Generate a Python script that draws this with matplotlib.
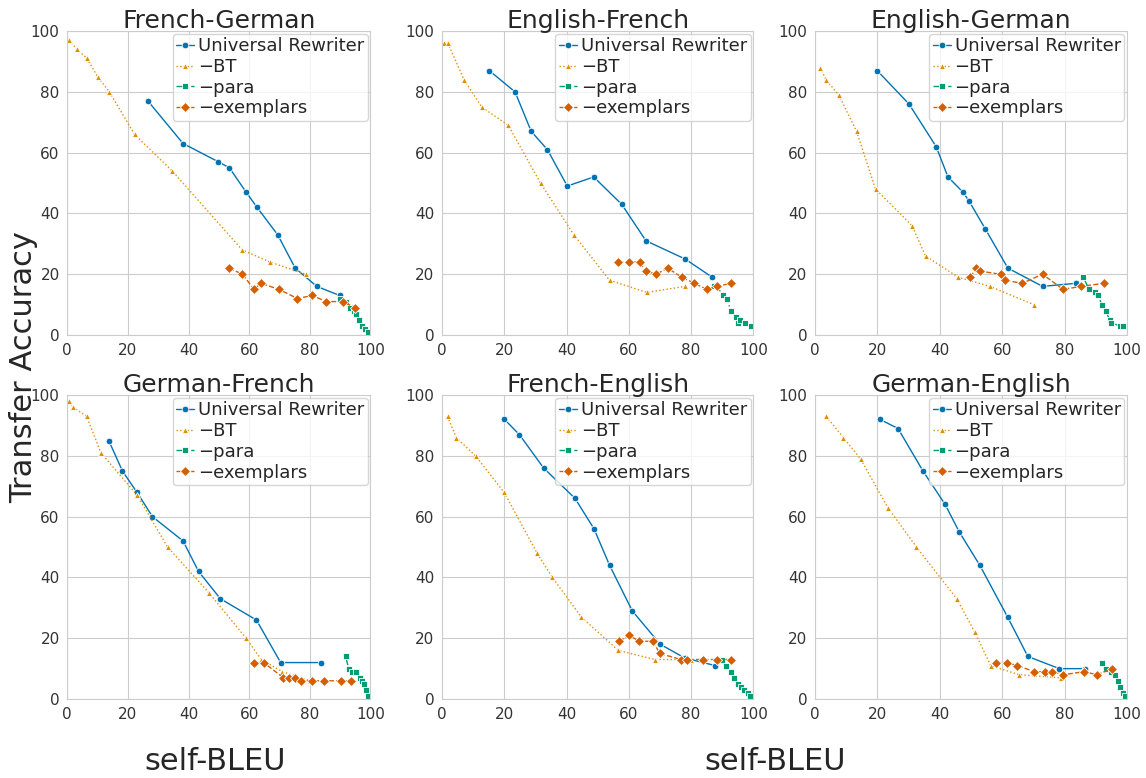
import matplotlib
matplotlib.use("Agg")
import matplotlib.pyplot as plt
import seaborn as sns

titles = ["French-German", "English-French", "English-German",
          "German-French", "French-English", "German-English"]
series = ["Universal Rewriter", "\u2212BT", "\u2212para", "\u2212exemplars"]

# French-German
fr_de_ur_x = [26.6, 38.2, 49.8, 53.5, 59.0, 62.6, 69.4, 75.2, 82.3, 89.9]
fr_de_ur_y = [77, 63, 57, 55, 47, 42, 33, 22, 16, 13]
fr_de_bt_x = [0.6, 3.2, 6.5, 10.0, 13.9, 22.2, 34.6, 57.7, 66.9, 78.7]
fr_de_bt_y = [97, 94, 91, 85, 80, 66, 54, 28, 24, 20]
fr_de_para_x = [90.0, 92.0, 93.2, 94.5, 95.2, 96.2, 97.2, 98.2, 99.2]
fr_de_para_y = [12, 11, 9, 8, 7, 5, 3, 2, 1]
fr_de_ex_x = [53.4, 57.8, 61.6, 63.9, 69.9, 75.9, 80.8, 85.5, 90.9, 95.0]
fr_de_ex_y = [22, 20, 15, 17, 15, 12, 13, 11, 11, 9]

# English-French
en_fr_ur_x = [15.1, 23.4, 28.6, 33.8, 40.2, 48.7, 57.7, 65.5, 78.1, 86.8]
en_fr_ur_y = [87, 80, 67, 61, 49, 52, 43, 31, 25, 19]
en_fr_bt_x = [0.5, 1.8, 7.0, 12.7, 21.2, 31.6, 42.3, 53.8, 65.8, 78.1]
en_fr_bt_y = [96, 96, 84, 75, 69, 50, 33, 18, 14, 16]
en_fr_para_x = [87.4, 88.4, 90.2, 91.5, 92.8, 94.5, 95.1, 95.8, 97.2, 99.4]
en_fr_para_y = [16, 16, 13, 12, 8, 6, 4, 5, 4, 3]
en_fr_ex_x = [56.6, 60.0, 63.5, 65.5, 68.8, 72.5, 77.0, 81.1, 85.1, 88.3, 92.8]
en_fr_ex_y = [24, 24, 24, 21, 20, 22, 19, 17, 15, 16, 17]

# English-German
en_de_ur_x = [19.9, 30.1, 38.8, 42.6, 47.4, 49.4, 54.5, 61.8, 72.9, 83.6]
en_de_ur_y = [87, 76, 62, 52, 47, 44, 35, 22, 16, 17]
en_de_bt_x = [1.7, 3.5, 7.6, 13.3, 19.4, 31.1, 35.4, 45.9, 56.0, 70.1]
en_de_bt_y = [88, 84, 79, 67, 48, 36, 26, 19, 16, 10]
en_de_para_x = [86.0, 87.8, 89.7, 90.7, 91.9, 93.1, 94.4, 95.0, 97.6, 98.8]
en_de_para_y = [19, 15, 14, 13, 10, 8, 5, 4, 3, 3]
en_de_ex_x = [49.8, 51.5, 52.9, 59.5, 61.0, 66.4, 72.9, 79.5, 85.3, 92.5]
en_de_ex_y = [19, 22, 21, 20, 18, 17, 20, 15, 16, 17]

# German-French
de_fr_ur_x = [13.7, 18.2, 23.0, 28.1, 38.2, 43.3, 50.5, 62.4, 70.4, 83.7]
de_fr_ur_y = [85, 75, 68, 60, 52, 42, 33, 26, 12, 12]
de_fr_bt_x = [0.5, 1.9, 6.4, 11.1, 23.1, 33.1, 46.7, 59.0, 64.0, 71.0, 80.0]
de_fr_bt_y = [98, 96, 93, 81, 67, 50, 35, 20, 13, 9, 6]
de_fr_para_x = [91.9, 92.8, 94.0, 95.4, 96.5, 97.1, 97.8, 98.6, 99.2]
de_fr_para_y = [14, 10, 9, 9, 7, 6, 5, 3, 1]
de_fr_ex_x = [61.5, 64.8, 71.3, 73.0, 75.0, 77.0, 80.6, 84.8, 90.4, 93.5]
de_fr_ex_y = [12, 12, 7, 7, 7, 6, 6, 6, 6, 6]

# French-English
fr_en_ur_x = [20.0, 24.8, 32.6, 42.7, 48.8, 53.8, 61.1, 70.1, 78.0, 87.8]
fr_en_ur_y = [92, 87, 76, 66, 56, 44, 29, 18, 13.5, 11]
fr_en_bt_x = [1.7, 4.5, 10.7, 19.9, 30.5, 35.4, 44.7, 56.6, 68.3, 80.0]
fr_en_bt_y = [93, 86, 80, 68, 48, 40, 27, 16, 13, 13]
fr_en_para_x = [90.1, 91.3, 92.8, 93.9, 95.2, 96.0, 97.1, 98.2, 99.0]
fr_en_para_y = [13, 11, 9, 7, 5, 4, 3, 2, 1]
fr_en_ex_x = [56.9, 60.1, 63.3, 67.8, 69.9, 76.8, 78.8, 83.7, 88.2, 93.0]
fr_en_ex_y = [19, 21, 19, 19, 15, 13, 13, 13, 13, 13]

# German-English
de_en_ur_x = [20.8, 26.6, 34.6, 41.7, 46.2, 52.8, 61.7, 68.2, 78.3, 86.6]
de_en_ur_y = [92, 89, 75, 64, 55, 44, 27, 14, 10, 10]
de_en_bt_x = [3.6, 9.1, 14.6, 23.3, 32.5, 45.4, 51.2, 56.3, 65.4, 78.7]
de_en_bt_y = [93, 86, 79, 63, 50, 33, 22, 11, 8, 7]
de_en_para_x = [91.8, 93.3, 95.0, 96.2, 97.2, 97.8, 98.6, 99.3]
de_en_para_y = [12, 10, 9, 8, 6, 4, 2, 1]
de_en_ex_x = [58.0, 61.4, 64.8, 70.3, 73.6, 75.8, 79.6, 86.2, 90.4, 95.2]
de_en_ex_y = [12, 12, 11, 9, 9, 9, 8, 9, 8, 10]

panels = [
    [(fr_de_ur_x, fr_de_ur_y), (fr_de_bt_x, fr_de_bt_y), (fr_de_para_x, fr_de_para_y), (fr_de_ex_x, fr_de_ex_y)],
    [(en_fr_ur_x, en_fr_ur_y), (en_fr_bt_x, en_fr_bt_y), (en_fr_para_x, en_fr_para_y), (en_fr_ex_x, en_fr_ex_y)],
    [(en_de_ur_x, en_de_ur_y), (en_de_bt_x, en_de_bt_y), (en_de_para_x, en_de_para_y), (en_de_ex_x, en_de_ex_y)],
    [(de_fr_ur_x, de_fr_ur_y), (de_fr_bt_x, de_fr_bt_y), (de_fr_para_x, de_fr_para_y), (de_fr_ex_x, de_fr_ex_y)],
    [(fr_en_ur_x, fr_en_ur_y), (fr_en_bt_x, fr_en_bt_y), (fr_en_para_x, fr_en_para_y), (fr_en_ex_x, fr_en_ex_y)],
    [(de_en_ur_x, de_en_ur_y), (de_en_bt_x, de_en_bt_y), (de_en_para_x, de_en_para_y), (de_en_ex_x, de_en_ex_y)],
]

colors = ["#0173b2", "#de8f05", "#029e73", "#d55e00"]
styles = ["-", ":", "-.", "--"]
markers = ["o", "^", "s", "D"]
msizes = [4.8, 4.0, 4.8, 5.0]

sns.set_style("whitegrid")
plt.rcParams["font.family"] = ["DejaVu Sans"]

fig = plt.figure(figsize=(11.46, 7.78), dpi=100)

lefts = [0.0587, 0.3859, 0.7112]
widths = [0.2645, 0.2714, 0.2723]
bottoms = [0.5694, 0.1015]
height = 0.3907

for i, data in enumerate(panels):
    r, c = divmod(i, 3)
    ax = fig.add_axes([lefts[c], bottoms[r], widths[c], height])
    for k, (xs, ys) in enumerate(data):
        ax.plot(xs, ys, linestyle=styles[k], color=colors[k], marker=markers[k],
                markersize=msizes[k], markeredgecolor="white", markeredgewidth=0.6,
                linewidth=1.0, label=series[k])
    ax.set_xlim(0, 100)
    ax.set_ylim(0, 100)
    ax.set_xticks([0, 20, 40, 60, 80, 100])
    ax.set_yticks([0, 20, 40, 60, 80, 100])
    ax.tick_params(labelsize=11, pad=2, colors="#333333")
    ax.set_title(titles[i], fontsize=18, color="#262626", pad=2)
    ax.legend(loc="upper right", fontsize=13, handlelength=1.0, handletextpad=0.2,
              labelspacing=0.15, borderpad=0.2, borderaxespad=0.15, framealpha=0.8)

fig.text(0.021, 0.528, "Transfer Accuracy", rotation=90, fontsize=22,
         ha="center", va="center", color="#262626")
fig.text(0.1876, 0.021, "self-BLEU", fontsize=22, ha="center", va="center", color="#262626")
fig.text(0.676, 0.021, "self-BLEU", fontsize=22, ha="center", va="center", color="#262626")

fig.savefig("out.png", dpi=100)
